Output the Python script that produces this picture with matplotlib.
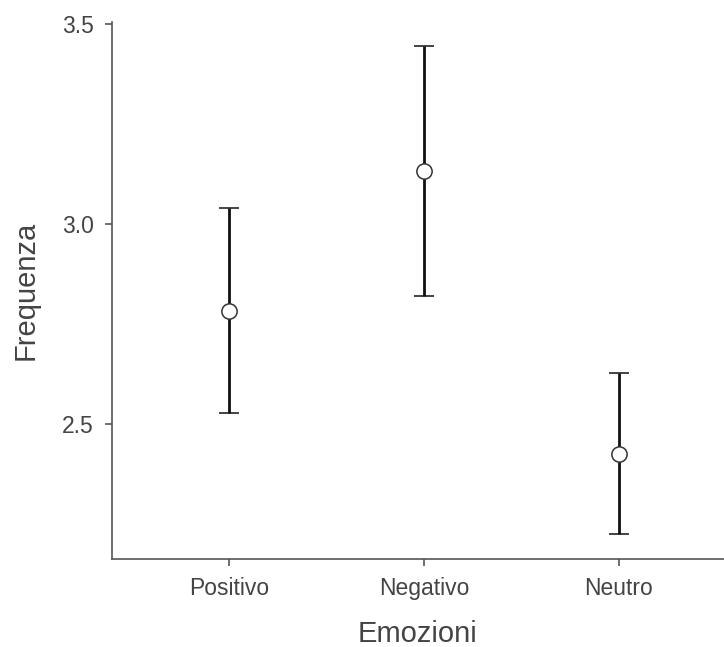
import matplotlib
matplotlib.use("Agg")
import matplotlib.pyplot as plt

categories = ["Positivo", "Negativo", "Neutro"]
means = [2.783, 3.133, 2.425]
lower = [2.527, 2.820, 2.225]
upper = [3.040, 3.445, 2.627]
yticks = [2.5, 3.0, 3.5]
ytick_labels = ["2.5", "3.0", "3.5"]

plt.rcParams['font.family'] = ['Liberation Sans', 'DejaVu Sans']

fig = plt.figure(figsize=(7.24, 6.47), dpi=100)
ax = fig.add_axes([112/724, 88/647, 1 - 112/724, (559-22)/647])

x = list(range(len(categories)))
yerr = [[m - l for m, l in zip(means, lower)], [u - m for m, u in zip(means, upper)]]
ax.errorbar(x, means, yerr=yerr, fmt='o', color='black', ecolor='#111111',
            elinewidth=2.0, capsize=7.5, capthick=2.2, markersize=11,
            markerfacecolor='white', markeredgecolor='#333333', markeredgewidth=1.1,
            zorder=3)

ax.set_xlim(-0.6, 2.54)
ax.set_ylim(2.1625, 3.505)
ax.set_xticks(x)
ax.set_xticklabels(categories)
ax.set_yticks(yticks)
ax.set_yticklabels(ytick_labels)

for s in ['top', 'right']:
    ax.spines[s].set_visible(False)
for s in ['left', 'bottom']:
    ax.spines[s].set_color('#555555')
    ax.spines[s].set_linewidth(1.2)

ax.tick_params(axis='both', colors='#555555', labelcolor='#444444', labelsize=16.5,
               length=5, width=1.2, pad=8)
ax.set_xlabel("Emozioni", fontsize=21, color='#444444', labelpad=14)
ax.set_ylabel("Frequenza", fontsize=21, color='#444444', labelpad=16)

fig.savefig("out.png", dpi=100)
